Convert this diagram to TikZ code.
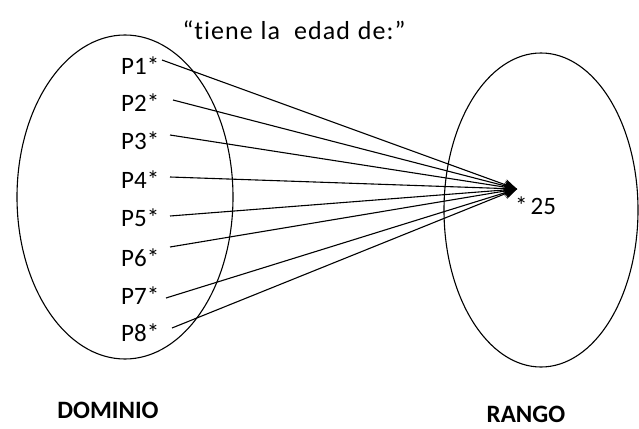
\documentclass[tikz,border=0pt]{standalone}
\usepackage{fontspec}
\setmainfont{Carlito}[Ligatures={NoCommon}]
\usetikzlibrary{arrows.meta}
\begin{document}
\begin{tikzpicture}[x=1pt,y=-1pt,
  lbl/.style={font=\fontsize{25}{28}\selectfont, inner sep=0pt, anchor=west},
  conn/.style={line width=1.1pt, -{Stealth[length=13pt,width=11pt]}},
  ell/.style={line width=1.1pt}]
\useasboundingbox (0,0) rectangle (639,428);
\draw[ell] (125,197) ellipse [x radius=108, y radius=162];
\draw[ell] (541,210) ellipse [x radius=97, y radius=157];
\node[font=\fontsize{26}{28}\selectfont\addfontfeatures{LetterSpace=4}, inner sep=0pt] (title) at (294,30) {“tiene\hspace{1pt} la\hspace{7pt} edad\hspace{1pt} de:”};
\node[lbl] (p1) at (121,66) {P1*};
\node[lbl] (p2) at (121,103) {P2*};
\node[lbl] (p3) at (121,141) {P3*};
\node[lbl] (p4) at (121,180) {P4*};
\node[lbl] (p5) at (121,218) {P5*};
\node[lbl] (p6) at (121,258) {P6*};
\node[lbl] (p7) at (121,296) {P7*};
\node[lbl] (p8) at (121,333) {P8*};
\node[lbl] (r) at (515,206) {*\hspace{3pt}25};
\coordinate (tip) at (517,189);
\coordinate (s1) at (162,60);
\coordinate (s2) at (173,100);
\coordinate (s3) at (170,135);
\coordinate (s4) at (170,177);
\coordinate (s5) at (170,216);
\coordinate (s6) at (170,247);
\coordinate (s7) at (166,298);
\coordinate (s8) at (172,328);
\foreach \i in {1,...,8}{
  \draw[conn] (s\i) -- (tip);
}
\node[font=\bfseries\fontsize{25}{28}\selectfont, inner sep=0pt] (dom) at (108,410) {DOMINIO};
\node[font=\bfseries\fontsize{25}{28}\selectfont, inner sep=0pt] (ran) at (526,414) {RANGO};
\end{tikzpicture}
\end{document}
